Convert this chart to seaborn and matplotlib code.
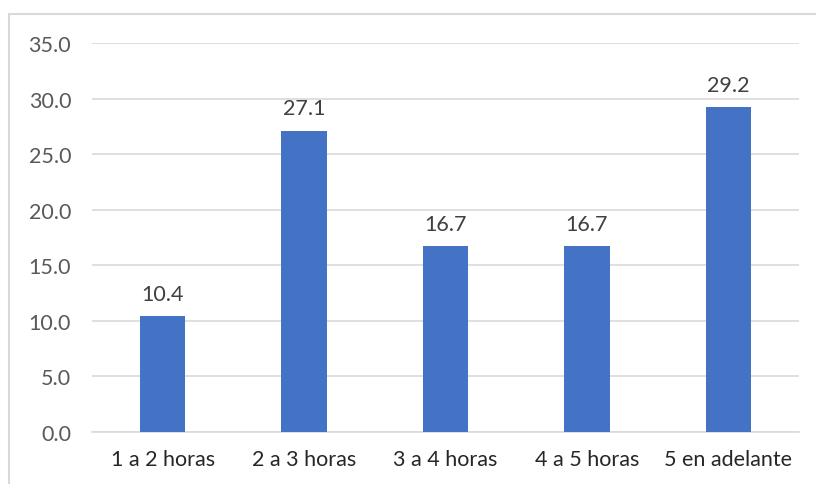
import matplotlib

matplotlib.use("Agg")
import matplotlib.pyplot as plt
import pandas as pd
import seaborn as sns
from matplotlib.patches import Rectangle

categories = ["1 a 2 horas", "2 a 3 horas", "3 a 4 horas", "4 a 5 horas", "5 en adelante"]
values = [10.4, 27.1, 16.7, 16.7, 29.2]
y_ticks = [0, 5, 10, 15, 20, 25, 30, 35]

BAR_COLOR = "#4472C4"
GRID_COLOR = "#D9D9D9"

sns.set_theme(style="white")
plt.rcParams["font.family"] = ["Lato", "DejaVu Sans"]

df = pd.DataFrame({"rango": categories, "valor": values})

fig = plt.figure(figsize=(8.16, 4.85), dpi=100)
ax = fig.add_axes([92 / 816, 1 - 433 / 485, (799 - 92) / 816, (433 - 44) / 485])

sns.barplot(data=df, x="rango", y="valor", color=BAR_COLOR, saturation=1, width=0.32,
            linewidth=0, ax=ax, zorder=3)

ax.set_ylim(0, 35)
ax.set_yticks(y_ticks)
ax.set_yticklabels([f"{t:.1f}" for t in y_ticks])
ax.yaxis.grid(True, color=GRID_COLOR, linewidth=1.2, zorder=0)
ax.set_axisbelow(True)
for side in ["top", "right", "left"]:
    ax.spines[side].set_visible(False)
ax.spines["bottom"].set_color(GRID_COLOR)
ax.spines["bottom"].set_linewidth(1.2)

ax.tick_params(axis="y", length=0, pad=15, labelsize=15.5, labelcolor="#595959")
ax.tick_params(axis="x", length=0, pad=12, labelsize=15.5, labelcolor="#262626")
ax.set_xlabel("")
ax.set_ylabel("")

for i, v in enumerate(values):
    ax.annotate(f"{v:.1f}", (i, v), xytext=(0, 9), textcoords="offset points",
                ha="center", va="bottom", fontsize=15.5, color="#404040")

# chart area border (Excel-style), cut off at right and bottom
fig.patches.append(Rectangle((9 / 816, -0.05), 1.1, (1 - 15 / 485) + 0.05,
                             transform=fig.transFigure, fill=False,
                             edgecolor=GRID_COLOR, linewidth=1.5))

fig.savefig("out.png", dpi=100)
